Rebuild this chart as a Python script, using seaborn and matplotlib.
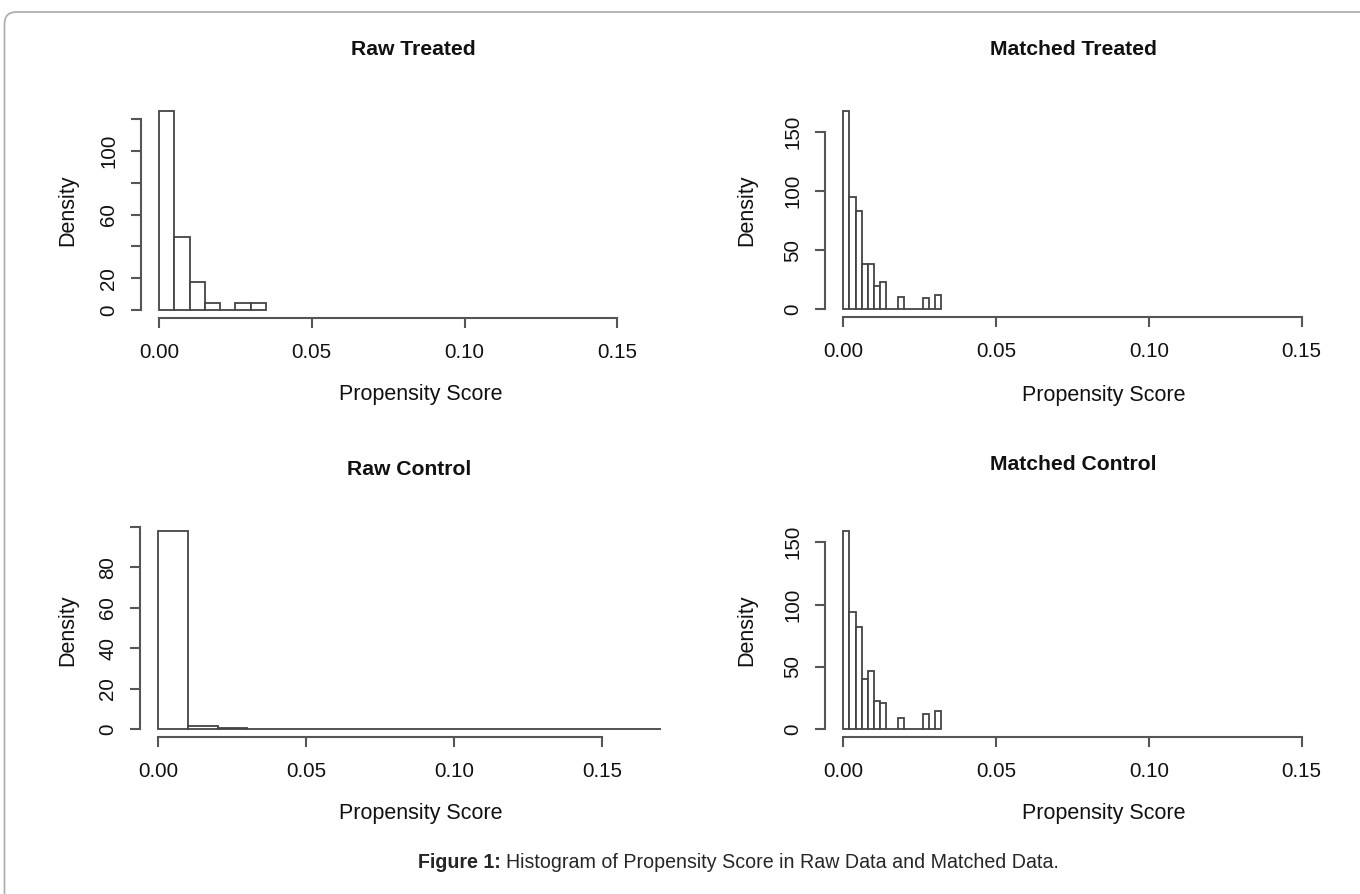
import matplotlib.pyplot as plt
import seaborn as sns
import numpy as np
from matplotlib.patches import FancyBboxPatch
from matplotlib.transforms import IdentityTransform

# histogram bins and densities
raw_treated_edges = [0.000, 0.005, 0.010, 0.015, 0.020, 0.025, 0.030, 0.035]
raw_treated_density = [125.0, 46.0, 17.5, 4.6, 0.0, 4.6, 4.6]

matched_treated_edges = [0.000, 0.002, 0.004, 0.006, 0.008, 0.010, 0.012, 0.014, 0.016,
                         0.018, 0.020, 0.022, 0.024, 0.026, 0.028, 0.030, 0.032]
matched_treated_density = [168.0, 95.5, 83.5, 38.5, 38.5, 19.5, 23.5, 0.0,
                           0.0, 10.5, 0.0, 0.0, 0.0, 10.0, 0.0, 12.0]

raw_control_edges = [0.00, 0.01, 0.02, 0.03, 0.04, 0.05, 0.06, 0.07, 0.08,
                     0.09, 0.10, 0.11, 0.12, 0.13, 0.14, 0.15, 0.16, 0.17]
raw_control_density = [98.1, 1.6, 0.3, 0.08, 0.05, 0.05, 0.04, 0.03, 0.03,
                       0.03, 0.03, 0.02, 0.03, 0.03, 0.02, 0.02, 0.03]

matched_control_edges = matched_treated_edges
matched_control_density = [159.0, 94.0, 82.0, 40.5, 47.0, 22.5, 20.5, 0.0,
                           0.0, 9.0, 0.0, 0.0, 0.0, 12.0, 0.0, 14.5]

x_ticks = [0.00, 0.05, 0.10, 0.15]
x_ticklabels = ["0.00", "0.05", "0.10", "0.15"]

sns.set_theme(style="ticks")
plt.rcParams["font.family"] = ["Liberation Sans", "DejaVu Sans"]

W, H = 1360, 894
fig = plt.figure(figsize=(W / 100, H / 100), dpi=100)

GRAY = "#555555"
BAR_EDGE = "#444444"
FS_TICK = 14.8
FS_TITLE = 15.2
FS_LAB = 15.5
FS_CAP = 14.1

panels = [
    dict(title="Raw Treated", edges=raw_treated_edges, dens=raw_treated_density,
         px=(159.0, 617.3), py=(310.0, 119.3), yv=120, xlim=(-0.006, 0.156), ylim=(-5, 130),
         yticks=[0, 20, 40, 60, 80, 100, 120], ylabels=["0", "20", "", "60", "", "100", ""],
         title_xy=(413, 58), xlabel_xy=(421, 395), ylabel_x=68),
    dict(title="Matched Treated", edges=matched_treated_edges, dens=matched_treated_density,
         px=(843.3, 1301.7), py=(309.3, 132.3), yv=150, xlim=(-0.006, 0.156), ylim=(-6.7, 174.7),
         yticks=[0, 50, 100, 150], ylabels=["0", "50", "100", "150"],
         title_xy=(1073, 58), xlabel_xy=(1104, 395), ylabel_x=747),
    dict(title="Raw Control", edges=raw_control_edges, dens=raw_control_density,
         px=(158.3, 602.3), py=(729.0, 567.3), yv=80, xlim=(-0.0062, 0.1768), ylim=(-3.9, 102.1),
         yticks=[0, 20, 40, 60, 80, 100], ylabels=["0", "20", "40", "60", "80", ""],
         title_xy=(409, 478), xlabel_xy=(421, 813), ylabel_x=68),
    dict(title="Matched Control", edges=matched_control_edges, dens=matched_control_density,
         px=(843.3, 1301.7), py=(729.0, 542.3), yv=150, xlim=(-0.006, 0.156), ylim=(-6.4, 165.6),
         yticks=[0, 50, 100, 150], ylabels=["0", "50", "100", "150"],
         title_xy=(1073, 473), xlabel_xy=(1104, 813), ylabel_x=747),
]

for p in panels:
    kx = (p["px"][1] - p["px"][0]) / 0.15
    ky = (p["py"][0] - p["py"][1]) / p["yv"]
    left = p["px"][0] + p["xlim"][0] * kx
    right = p["px"][0] + p["xlim"][1] * kx
    bottom = p["py"][0] - p["ylim"][0] * ky
    top = p["py"][0] - p["ylim"][1] * ky
    ax = fig.add_axes([left / W, 1 - bottom / H, (right - left) / W, (bottom - top) / H])
    ax.set_facecolor("none")

    edges = np.array(p["edges"])
    centers = (edges[:-1] + edges[1:]) / 2
    sns.histplot(x=centers, weights=p["dens"], bins=list(p["edges"]), stat="count", ax=ax,
                 color="white", edgecolor=BAR_EDGE, linewidth=1.3, alpha=1)

    ax.set_xlim(*p["xlim"])
    ax.set_ylim(*p["ylim"])
    ax.set_xticks(x_ticks, x_ticklabels)
    ax.set_yticks(p["yticks"], p["ylabels"])
    sns.despine(ax=ax)
    for side in ("left", "bottom"):
        ax.spines[side].set_color(GRAY)
        ax.spines[side].set_linewidth(1.5)
    ax.spines["bottom"].set_bounds(0, 0.15)
    ax.spines["left"].set_bounds(0, p["yticks"][-1])
    ax.tick_params(axis="both", direction="out", length=7.2, width=1.5, color=GRAY,
                   labelsize=FS_TICK, labelcolor="#111111")
    ax.tick_params(axis="x", pad=11)
    ax.tick_params(axis="y", pad=9, labelrotation=90)
    plt.setp(ax.get_yticklabels(), va="center")

    hpx = bottom - top
    wpx = right - left
    tx, ty = p["title_xy"]
    ax.set_title(p["title"], fontsize=FS_TITLE, fontweight="bold", color="#111111",
                 x=(tx - left) / wpx, y=1 + (top - ty) / hpx, va="center")
    ax.set_xlabel("Propensity Score", fontsize=FS_LAB, color="#111111")
    ax.set_ylabel("Density", fontsize=FS_LAB, color="#111111")
    lx, ly = p["xlabel_xy"]
    ax.xaxis.set_label_coords((lx - left) / wpx, -(ly - bottom) / hpx)
    ax.xaxis.label.set_va("center")
    ax.yaxis.set_label_coords((p["ylabel_x"] - left) / wpx, 0.5)
    ax.yaxis.label.set_va("center")

# caption
cap_y = 1 - 862 / H
t1 = fig.text(418 / W, cap_y, "Figure 1:", fontsize=FS_CAP, fontweight="bold", va="center", ha="left")
fig.canvas.draw()
bb = t1.get_window_extent()
fig.text((bb.x1 + 5) / W, cap_y, "Histogram of Propensity Score in Raw Data and Matched Data.",
         fontsize=FS_CAP, va="center", ha="left")

# page frame, open to the right and bottom
frame = FancyBboxPatch((4.5, -60), W + 60, H - 12 + 60, boxstyle="round,pad=0,rounding_size=12",
                       transform=IdentityTransform(), fill=False, edgecolor="#b0b0b0", linewidth=1.3)
fig.add_artist(frame)

fig.savefig("out.png", dpi=100)
